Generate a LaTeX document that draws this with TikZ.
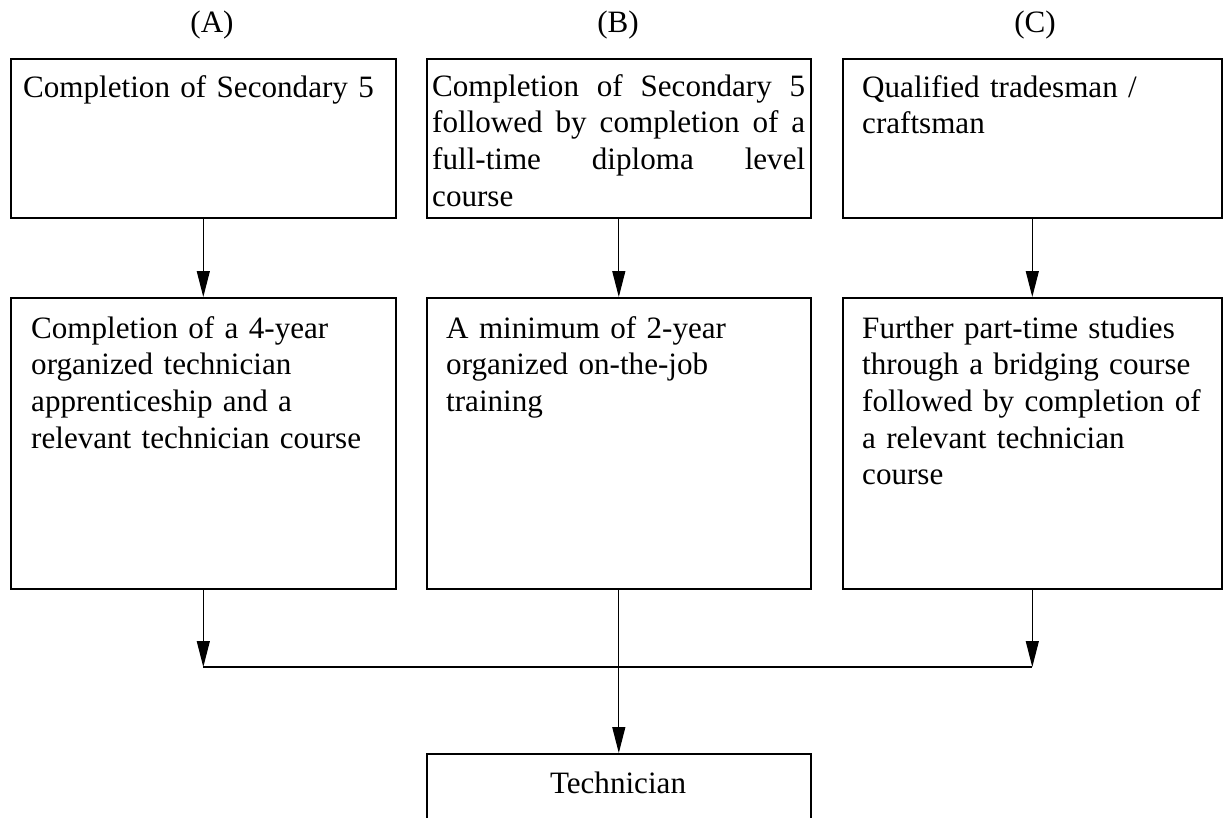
\documentclass[tikz,border=0pt]{standalone}
\usepackage{fontspec}
\setmainfont{Liberation Serif}
\usetikzlibrary{arrows.meta}
\newcommand{\spreadline}[1]{\makebox[373pt][l]{#1}}
\begin{document}
\begin{tikzpicture}[x=1pt,y=-1pt,
  every node/.style={inner sep=0pt, font=\fontsize{31.1pt}{36.7pt}\selectfont},
  stagebox/.style={draw, line width=1.6pt, anchor=north west, minimum height=#1},
  txt/.style={anchor=base west, align=left, text width=#1},
  flow/.style={line width=1.2pt, -{Triangle[length=26pt,width=13pt]}},
  bus/.style={line width=2pt}]
\clip (0,0) rectangle (1223,817);

% route headings
\node (lblA) at (212,32) [anchor=base] {(A)};
\node (lblB) at (618,32) [anchor=base] {(B)};
\node (lblC) at (1035,32) [anchor=base] {(C)};

% entry requirements
\node (topA) [stagebox=159pt, minimum width=385pt] at (10,58) {};
\node (topB) [stagebox=159pt, minimum width=384pt] at (426,58) {};
\node (topC) [stagebox=159pt, minimum width=379pt] at (842,58) {};

\node (tA) [txt=370pt] at (23,97) {Completion of Secondary 5};
\begin{scope}
  \clip (426,58) rectangle (810,207);
  \node (tB) [txt=373pt] at (432,96) {%
    \spreadline{Completion\hfill of\hfill Secondary\hfill 5}\\
    \spreadline{followed\hfill by\hfill completion\hfill of\hfill a}\\
    \spreadline{full-time\hfill diploma\hfill level}\\
    course};
\end{scope}
\node (tC) [txt=350pt] at (862,97) {Qualified tradesman /\\craftsman};

% training stages
\node (midA) [stagebox=291pt, minimum width=385pt] at (10,297) {};
\node (midB) [stagebox=291pt, minimum width=384pt] at (426,297) {};
\node (midC) [stagebox=291pt, minimum width=379pt] at (842,297) {};

\node (mA) [txt=360pt] at (31,338) {Completion of a 4-year\\organized technician\\apprenticeship and a\\relevant technician course};
\node (mB) [txt=360pt] at (446,338) {A minimum of 2-year\\organized on-the-job\\training};
\node (mC) [txt=360pt] at (862,338) {Further part-time studies\\through a bridging course\\followed by completion of\\a relevant technician\\course};

% outcome
\node (tech) [stagebox=120pt, minimum width=384pt] at (426,753) {};
\node (techtxt) at (618,793) [anchor=base] {Technician};

% connectors
\coordinate (busline) at (0,667);
\draw[flow] (topA.south) -- (midA.north);
\draw[flow] (topB.south) -- (midB.north);
\draw[flow] (topC.south) -- (midC.north);
\draw[flow] (midA.south) -- (midA.south |- busline);
\draw[flow] (midC.south) -- (midC.south |- busline);
\draw[bus] (midA.south |- busline) -- (midC.south |- busline);
\draw[flow] (midB.south) -- (tech.north);
\end{tikzpicture}
\end{document}
